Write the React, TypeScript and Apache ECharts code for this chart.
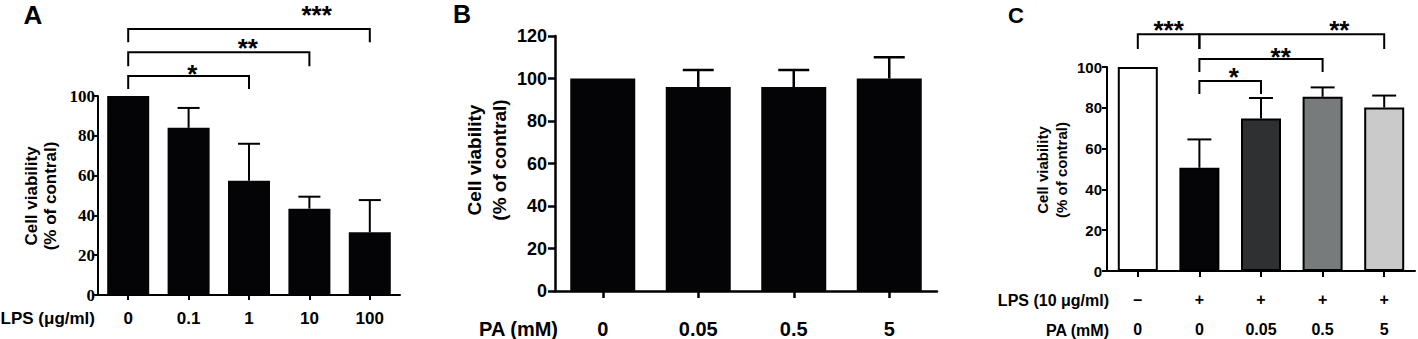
import React, { useEffect, useRef } from "react";
import * as echarts from "echarts";

// ---------- data ----------
const catsA = ["0", "0.1", "1", "10", "100"];
const meanA = [100, 84, 57.4, 43.4, 31.5];
const errTopA = [100, 94, 76, 49.4, 47.7];

const catsB = ["0", "0.05", "0.5", "5"];
const meanB = [100, 96, 96, 100];
const errTopB = [100, 104, 104, 110];

const lpsRowC = ["–", "+", "+", "+", "+"];
const paRowC = ["0", "0", "0.05", "0.5", "5"];
const meanC = [100, 50.6, 74.8, 85.4, 80.2];
const errTopC = [100, 64.5, 84.8, 90, 86];
const colorsC = ["#ffffff", "#050508", "#2e3032", "#787b7b", "#c9cac9"];

// brackets: [fromCat, toCat, barLevel, endLevel, starPosFraction, starLevel]
const bracketsA = [
  [0, 2, 110, 103.5, 0.53, 114.3],
  [0, 3, 122, 115, 0.66, 126.9],
  [0, 4, 133.7, 127, 0.78, 143.7],
];
const starsA = ["*", "**", "***"];
const bracketsC = [
  [0, 1, 116, 108.8, 0.5, 121.2],
  [1, 4, 116, 108.8, 0.757, 121.2],
  [1, 3, 103.9, 97.5, 0.66, 108],
  [1, 2, 93.1, 86.8, 0.56, 98.1],
];
const starsC = ["***", "**", "**", "*"];

const yMaxA = 100;
const yMaxB = 120;
const yMaxC = 100;
const yStep = 20;

const SANS = "Liberation Sans, Arial, sans-serif";
const SERIF = "Liberation Serif, Times New Roman, serif";
const BAR_BLACK = "#040407";

function errorRenderer(cap: number, lw: number) {
  return (params: any, api: any) => {
    const i = api.value(0);
    const m = api.value(1);
    const e = api.value(2);
    if (!(e > m)) return null;
    const p1 = api.coord([i, m]);
    const p2 = api.coord([i, e]);
    return {
      type: "group",
      children: [
        { type: "line", shape: { x1: p1[0], y1: p1[1], x2: p2[0], y2: p2[1] }, style: { stroke: "#000", lineWidth: lw } },
        { type: "line", shape: { x1: p2[0] - cap / 2, y1: p2[1], x2: p2[0] + cap / 2, y2: p2[1] }, style: { stroke: "#000", lineWidth: lw } },
      ],
    };
  };
}

function bracketRenderer(stars: string[], lw: number) {
  return (params: any, api: any) => {
    const a = api.value(0);
    const b = api.value(1);
    const lvl = api.value(2);
    const endLvl = api.value(3);
    const frac = api.value(4);
    const sLvl = api.value(5);
    const pa = api.coord([a, lvl]);
    const pb = api.coord([b, lvl]);
    const pae = api.coord([a, endLvl]);
    const ps = api.coord([a, sLvl]);
    const sx = pa[0] + frac * (pb[0] - pa[0]);
    return {
      type: "group",
      children: [
        {
          type: "polyline",
          shape: { points: [[pa[0], pae[1]], [pa[0], pa[1]], [pb[0], pb[1]], [pb[0], pae[1]]] },
          style: { stroke: "#000", lineWidth: lw, fill: "none" },
        },
        {
          type: "text",
          x: sx,
          y: ps[1] + 6,
          style: {
            text: stars[params.dataIndex],
            fontFamily: SANS,
            fontWeight: "bold",
            fontSize: 26,
            fill: "#000",
            align: "center",
            verticalAlign: "middle",
          },
        },
      ],
    };
  };
}

function yTitle(x: number, y: number, size: number, lh: number) {
  return {
    type: "text",
    x,
    y,
    rotation: Math.PI / 2,
    style: {
      text: "Cell viability\n(% of contral)",
      fontFamily: SANS,
      fontWeight: "bold",
      fontSize: size,
      lineHeight: lh,
      fill: "#000",
      align: "center",
      verticalAlign: "middle",
    },
  };
}

function label(text: string, x: number, y: number, size: number, align = "right") {
  return {
    type: "text",
    x,
    y,
    style: { text, fontFamily: SANS, fontWeight: "bold", fontSize: size, fill: "#000", align, verticalAlign: "middle" },
  };
}

export default function App() {
  const ref = useRef<HTMLDivElement>(null);

  useEffect(() => {
    if (!ref.current) return;
    const chart = echarts.init(ref.current, undefined, { renderer: "svg" });

    const axisLine = (w: number) => ({ show: true, lineStyle: { color: "#000", width: w } });

    const option: any = {
      animation: false,
      backgroundColor: "#fff",
      grid: [
        { left: 98, top: 96, width: 302, height: 199, outerBoundsMode: "none", containLabel: false },
        { left: 555, top: 36, width: 382, height: 255, outerBoundsMode: "none", containLabel: false },
        { left: 1107, top: 67, width: 308, height: 204, outerBoundsMode: "none", containLabel: false },
      ],
      xAxis: [
        {
          gridIndex: 0,
          type: "category",
          data: catsA,
          axisLine: axisLine(2),
          axisTick: { show: true, alignWithLabel: true, length: 5, lineStyle: { color: "#000", width: 2 } },
          axisLabel: { color: "#000", fontFamily: SANS, fontWeight: "bold", fontSize: 17, margin: 15 },
        },
        {
          gridIndex: 1,
          type: "category",
          data: catsB,
          axisLine: axisLine(2.5),
          axisTick: { show: true, alignWithLabel: true, length: 7, lineStyle: { color: "#000", width: 2.5 } },
          axisLabel: { color: "#000", fontFamily: SANS, fontWeight: "bold", fontSize: 20, margin: 28 },
        },
        {
          gridIndex: 2,
          type: "category",
          data: paRowC,
          axisLine: axisLine(2),
          axisTick: { show: true, alignWithLabel: true, length: 6, lineStyle: { color: "#000", width: 2 } },
          axisLabel: {
            color: "#000",
            fontFamily: SANS,
            fontWeight: "bold",
            fontSize: 16,
            lineHeight: 30,
            margin: 13,
            formatter: (v: string, i: number) => lpsRowC[i] + "\n" + v,
          },
        },
      ],
      yAxis: [
        {
          gridIndex: 0,
          type: "value",
          min: 0,
          max: yMaxA,
          interval: yStep,
          splitLine: { show: false },
          axisLine: axisLine(2),
          axisTick: { show: true, length: 5, lineStyle: { color: "#000", width: 2 } },
          axisLabel: { color: "#000", fontFamily: SERIF, fontWeight: "bold", fontSize: 17, margin: 3 },
        },
        {
          gridIndex: 1,
          type: "value",
          min: 0,
          max: yMaxB,
          interval: yStep,
          splitLine: { show: false },
          axisLine: axisLine(2.5),
          axisTick: { show: true, length: 7, lineStyle: { color: "#000", width: 2.5 } },
          axisLabel: { color: "#000", fontFamily: SANS, fontWeight: "bold", fontSize: 18, margin: 8 },
        },
        {
          gridIndex: 2,
          type: "value",
          min: 0,
          max: yMaxC,
          interval: yStep,
          splitLine: { show: false },
          axisLine: axisLine(2),
          axisTick: { show: true, length: 5, lineStyle: { color: "#000", width: 2 } },
          axisLabel: { color: "#000", fontFamily: SANS, fontWeight: "bold", fontSize: 15, margin: 5 },
        },
      ],
      series: [
        {
          type: "bar",
          xAxisIndex: 0,
          yAxisIndex: 0,
          data: meanA,
          barWidth: 42,
          itemStyle: { color: BAR_BLACK },
        },
        {
          type: "custom",
          xAxisIndex: 0,
          yAxisIndex: 0,
          clip: false,
          z: 3,
          data: meanA.map((m, i) => [i, m, errTopA[i]]),
          renderItem: errorRenderer(22, 2),
        },
        {
          type: "custom",
          xAxisIndex: 0,
          yAxisIndex: 0,
          clip: false,
          z: 3,
          data: bracketsA,
          renderItem: bracketRenderer(starsA, 2),
        },
        {
          type: "bar",
          xAxisIndex: 1,
          yAxisIndex: 1,
          data: meanB,
          barWidth: 65,
          itemStyle: { color: BAR_BLACK },
        },
        {
          type: "custom",
          xAxisIndex: 1,
          yAxisIndex: 1,
          clip: false,
          z: 3,
          data: meanB.map((m, i) => [i, m, errTopB[i]]),
          renderItem: errorRenderer(31, 2.5),
        },
        {
          type: "bar",
          xAxisIndex: 2,
          yAxisIndex: 2,
          data: meanC.map((v, i) => ({ value: v, itemStyle: { color: colorsC[i] } })),
          barWidth: 40,
          itemStyle: { borderColor: "#000", borderWidth: 2 },
        },
        {
          type: "custom",
          xAxisIndex: 2,
          yAxisIndex: 2,
          clip: false,
          z: 3,
          data: meanC.map((m, i) => [i, m, errTopC[i]]),
          renderItem: errorRenderer(24, 2),
        },
        {
          type: "custom",
          xAxisIndex: 2,
          yAxisIndex: 2,
          clip: false,
          z: 3,
          data: bracketsC,
          renderItem: bracketRenderer(starsC, 2),
        },
      ],
      graphic: [
        label("A", 33, 15, 26, "center"),
        label("B", 462, 14, 25, "center"),
        label("C", 1016, 15, 22, "center"),
        yTitle(41, 196, 17, 19),
        yTitle(487, 160, 19, 25),
        yTitle(1052, 170, 15, 19),
        label("LPS (μg/ml)", 95, 318, 17),
        label("PA (mM)", 558, 329, 20),
        label("LPS (10 μg/ml)", 1109, 300, 16),
        label("PA (mM)", 1109, 330, 16),
      ],
    };

    chart.setOption(option);
    return () => chart.dispose();
  }, []);

  return (
    <div
      ref={ref}
      style={{ position: "fixed", left: 0, top: 0, width: 1418, height: 339, background: "#fff" }}
    />
  );
}
